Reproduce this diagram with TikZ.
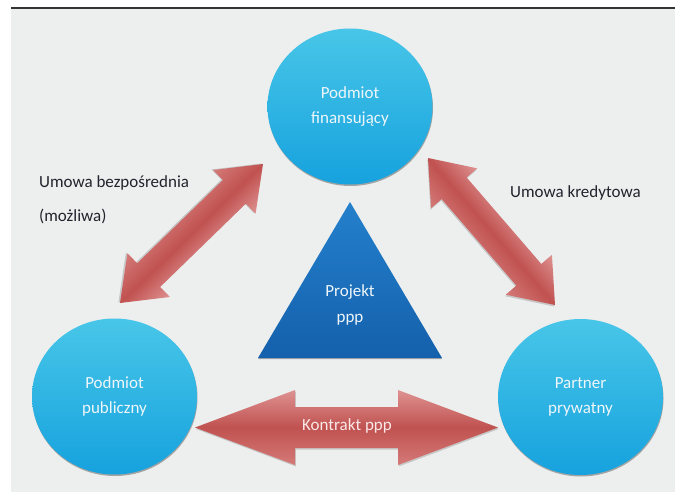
\documentclass[tikz,border=0pt]{standalone}
\usepackage{fontspec}
\setmainfont{Carlito}
\usetikzlibrary{calc,shapes.geometric,shadows}
\definecolor{bggray}{RGB}{237,238,238}
\definecolor{cyanlt}{RGB}{72,198,232}
\definecolor{cyandk}{RGB}{22,162,222}
\definecolor{blutop}{RGB}{36,128,204}
\definecolor{bludk}{RGB}{20,96,172}
\definecolor{redlt}{RGB}{222,146,146}
\definecolor{redmd}{RGB}{192,82,80}
\definecolor{redbt}{RGB}{212,122,120}
\definecolor{txtdk}{RGB}{35,35,45}
\definecolor{txtlt}{RGB}{238,246,250}
% double block arrow between two named points: from, to, head length, head half width, shaft half width
\newcommand{\twoway}[5]{%
	\path let \p1=($(#2)-(#1)$) in \pgfextra{\pgfmathsetmacro\arang{atan2(\y1,\x1)}\pgfmathsetmacro\arlen{veclen(\x1,\y1)}\global\let\arang\arang\global\let\arlen\arlen};
	\begin{scope}[transform canvas={shift={(#1)},rotate=\arang},x=1pt,y=1pt]
		\fill[black!40,opacity=0.45,shift={(0.8,-1.5)}] (0,0)--(#3,#4)--(#3,#5)--(\arlen-#3,#5)--(\arlen-#3,#4)--(\arlen,0)--(\arlen-#3,-#4)--(\arlen-#3,-#5)--(#3,-#5)--(#3,-#4)--cycle;
		\shade[arrowshade] (0,0)--(#3,#4)--(#3,#5)--(\arlen-#3,#5)--(\arlen-#3,#4)--(\arlen,0)--(\arlen-#3,-#4)--(\arlen-#3,-#5)--(#3,-#5)--(#3,-#4)--cycle;
	\end{scope}}
\begin{document}
\begin{tikzpicture}[x=1pt,y=-1pt,
	circ/.style={ellipse,minimum width=165pt,minimum height=156pt,inner sep=0pt,top color=cyanlt,bottom color=cyandk,text=txtlt,align=center,font=\fontsize{17}{25}\selectfont,drop shadow={shadow xshift=0.5pt,shadow yshift=-1.5pt,opacity=0.55,fill=black!60}},
	lbl/.style={anchor=base west,inner sep=0pt,text=txtdk,font=\fontsize{17}{20}\selectfont},
	arrowshade/.style={top color=redlt,bottom color=redbt,middle color=redmd}]
	\useasboundingbox (0,0) rectangle (675,492);
	\fill[white] (0,0) rectangle (675,492);
	\fill[bggray] (11,9) rectangle (675,492);
	\draw[line width=1.5pt,black!80] (11,8)--(675,8);
	% circles
	\node[circ] (fin) at (350,106.5) {Podmiot\\finansujący};
	\node[circ] (pub) at (114.5,396.5) {Podmiot\\publiczny};
	\node[circ] (priv) at (580.5,397) {Partner\\prywatny};
	% triangle
	\coordinate (apex) at (350,202);
	\coordinate (bl) at (258,358);
	\coordinate (br) at (442,358);
	\shade[top color=blutop,bottom color=bludk,drop shadow={shadow xshift=0pt,shadow yshift=-1.2pt,opacity=0.5,fill=black!60}] (apex)--(br)--(bl)--cycle;
	\node[text=txtlt,align=center,font=\fontsize{17}{26}\selectfont] (proj) at (350,305) {Projekt\\ppp};
	% arrows
	\coordinate (fl) at (263,164);
	\coordinate (pl) at (120,303);
	\coordinate (fr) at (428,158);
	\coordinate (pr) at (555,305);
	\coordinate (ph) at (195,427.5);
	\coordinate (rh) at (498,427.5);
	\twoway{fl}{pl}{40}{30.5}{16.5}
	\twoway{fr}{pr}{40}{30.5}{16.5}
	\twoway{ph}{rh}{100}{37.5}{20.5}
	\node[text={rgb,255:red,250;green,232;blue,232},font=\fontsize{17}{20}\selectfont] (kontr) at (347,426) {Kontrakt ppp};
	% labels
	\node[lbl] (ub) at (39,187.5) {Umowa bezpośrednia};
	\node[lbl] (um) at (39,222) {(możliwa)};
	\node[lbl] (uk) at (510,197.5) {Umowa kredytowa};
\end{tikzpicture}
\end{document}
